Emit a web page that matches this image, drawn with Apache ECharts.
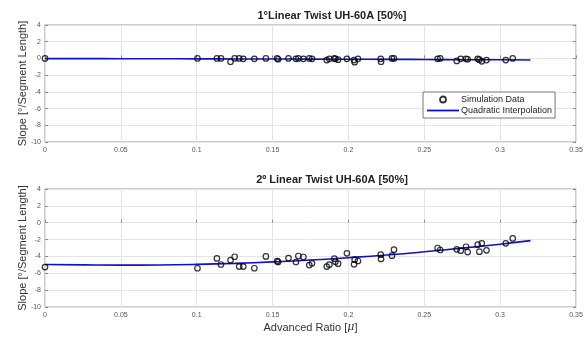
<!DOCTYPE html>
<html>
<head>
<meta charset="utf-8">
<script src="https://cdn.jsdelivr.net/npm/echarts@6/dist/echarts.min.js"></script>
<style>html,body{margin:0;padding:0;background:#fff}#c{width:587px;height:337px}</style>
</head>
<body>
<div id="c"></div>
<script>
// Advance ratio of each simulation run (shared by both panels)
var mu = [0, 0.1005, 0.1133, 0.116, 0.1223, 0.125, 0.128, 0.1307, 0.138, 0.1456, 0.153, 0.1537, 0.1605, 0.1654, 0.167, 0.1703, 0.1742, 0.176, 0.1857, 0.1874, 0.1907, 0.1914, 0.1932, 0.199, 0.2037, 0.2041, 0.2063, 0.2213, 0.2215, 0.2287, 0.23, 0.2588, 0.2605, 0.2714, 0.274, 0.2775, 0.2786, 0.2852, 0.2863, 0.2879, 0.291, 0.3037, 0.3083];
// 1° linear twist simulation slopes
var slope1 = [0, 0, 0, 0, -0.4, 0, 0, -0.05, -0.05, 0, 0, -0.1, 0, -0.05, 0, -0.05, 0, -0.05, -0.2, -0.05, 0, -0.05, -0.15, -0.05, -0.2, -0.45, -0.05, -0.05, -0.4, 0, 0, -0.05, 0, -0.3, -0.05, -0.05, -0.1, -0.05, -0.15, -0.35, -0.2, -0.2, 0];
// 2° linear twist simulation slopes
var slope2 = [-5.26, -5.4, -4.24, -4.96, -4.44, -4.04, -5.2, -5.2, -5.4, -4.0, -4.56, -4.65, -4.2, -4.66, -3.95, -4.07, -5.02, -4.82, -5.2, -4.98, -4.27, -4.62, -4.86, -3.63, -4.94, -4.39, -4.54, -3.79, -4.3, -3.91, -3.2, -3.0, -3.24, -3.16, -3.32, -2.85, -3.48, -2.61, -3.44, -2.45, -3.28, -2.45, -1.86];
// Quadratic interpolation curves
var curveMu = [0, 0.025, 0.05, 0.075, 0.1, 0.125, 0.15, 0.175, 0.2, 0.225, 0.25, 0.275, 0.3, 0.32];
var curve1 = [-0.02, -0.02, -0.03, -0.04, -0.05, -0.06, -0.07, -0.08, -0.1, -0.11, -0.13, -0.15, -0.16, -0.18];
var curve2 = [-4.95, -5.0, -5.03, -5.01, -4.94, -4.82, -4.65, -4.43, -4.15, -3.83, -3.45, -3.02, -2.55, -2.13];
var titles = ['1°Linear Twist UH-60A [50%]', '2º Linear Twist UH-60A [50%]'];

function pairs(xs, ys) { return xs.map(function (x, i) { return [x, ys[i]]; }); }

var FONT = 'Liberation Sans, Arial, sans-serif';
var BLUE = '#0f0fcc';
function xAxis(idx, named) {
  return {
    type: 'value', gridIndex: idx, min: 0, max: 0.35, interval: 0.05,
    axisLine: { show: false },
    axisTick: { show: true, inside: true, length: 3, lineStyle: { color: '#8a8a8a' } },
    splitLine: { show: true, lineStyle: { color: '#e4e4e4', width: 1 } },
    axisLabel: { fontSize: 7, color: '#555', fontFamily: FONT, margin: 5,
      formatter: function (v) { return String(parseFloat(v.toFixed(2))); } },
    name: named ? '{a|Advanced Ratio [}{m|μ}{a|]}' : '',
    nameLocation: 'middle', nameGap: 15,
    nameTextStyle: { rich: { a: { fontSize: 11, color: '#333', fontFamily: FONT }, m: { fontSize: 11, color: '#333', fontStyle: 'italic', fontFamily: 'DejaVu Serif, serif' } } }
  };
}
function yAxis(idx) {
  return {
    type: 'value', gridIndex: idx, min: -10, max: 4, interval: 2,
    axisLine: { show: false },
    axisTick: { show: true, inside: true, length: 3, lineStyle: { color: '#8a8a8a' } },
    splitLine: { show: true, lineStyle: { color: '#e4e4e4', width: 1 } },
    axisLabel: { fontSize: 7, color: '#555', fontFamily: FONT, margin: 4 },
    name: 'Slope [°/Segment Length]', nameLocation: 'middle', nameGap: 17, nameRotate: 90,
    nameMoveOverlap: false,
    nameTextStyle: { fontSize: 11, color: '#333', fontFamily: FONT }
  };
}
function yAxisRight(idx) {
  return {
    type: 'value', gridIndex: idx, min: -10, max: 4, interval: 2, position: 'right',
    axisLine: { show: false }, splitLine: { show: false }, axisLabel: { show: false },
    axisTick: { show: true, inside: true, length: 3, lineStyle: { color: '#8a8a8a' } }
  };
}

var chart = echarts.init(document.getElementById('c'), null, { renderer: 'canvas' });
chart.setOption({
  backgroundColor: '#ffffff',
  animation: false,
  title: [
    { text: titles[0], left: 327, top: 5, textAlign: 'center', textStyle: { fontSize: 11, fontWeight: 'bold', color: '#222', fontFamily: FONT } },
    { text: titles[1], left: 327, top: 169, textAlign: 'center', textStyle: { fontSize: 11, fontWeight: 'bold', color: '#222', fontFamily: FONT } }
  ],
  grid: [
    { left: 45, right: 11, top: 25, height: 117, show: true, borderColor: '#9a9a9a', borderWidth: 1, backgroundColor: '#fff' },
    { left: 45, right: 11, top: 189, height: 118, show: true, borderColor: '#9a9a9a', borderWidth: 1, backgroundColor: '#fff' }
  ],
  xAxis: [xAxis(0, false), xAxis(1, true)],
  yAxis: [yAxis(0), yAxis(1), yAxisRight(0), yAxisRight(1)],
  legend: {
    left: 423, top: 92, orient: 'vertical', itemGap: 2, itemWidth: 32, itemHeight: 6,
    padding: [3, 3, 3, 4], backgroundColor: '#fff', borderColor: '#777', borderWidth: 1,
    textStyle: { fontSize: 9, color: '#222', fontFamily: FONT, padding: [0, 0, 0, -3] },
    data: [
      { name: 'Simulation Data', icon: 'circle', itemStyle: { color: '#fff', borderColor: '#000', borderWidth: 1.8 } },
      { name: 'Quadratic Interpolation', icon: 'path://M0,0 L32,0 L32,1.8 L0,1.8 Z', itemStyle: { color: BLUE } }
    ]
  },
  series: [
    { name: 'Quadratic Interpolation', type: 'line', xAxisIndex: 0, yAxisIndex: 0, data: pairs(curveMu, curve1), smooth: true, symbol: 'none', lineStyle: { color: BLUE, width: 1.6 }, itemStyle: { color: BLUE }, z: 2 },
    { name: 'Simulation Data', type: 'scatter', xAxisIndex: 0, yAxisIndex: 0, data: pairs(mu, slope1), symbol: 'circle', symbolSize: 5.5, itemStyle: { color: 'rgba(255,255,255,0)', borderColor: '#000', borderWidth: 1.2 }, z: 3 },
    { name: 'Quadratic Interpolation', type: 'line', xAxisIndex: 1, yAxisIndex: 1, data: pairs(curveMu, curve2), smooth: true, symbol: 'none', lineStyle: { color: BLUE, width: 1.6 }, itemStyle: { color: BLUE }, z: 2 },
    { name: 'Simulation Data', type: 'scatter', xAxisIndex: 1, yAxisIndex: 1, data: pairs(mu, slope2), symbol: 'circle', symbolSize: 5.5, itemStyle: { color: 'rgba(255,255,255,0)', borderColor: '#000', borderWidth: 1.2 }, z: 3 }
  ]
});
</script>
</body>
</html>
